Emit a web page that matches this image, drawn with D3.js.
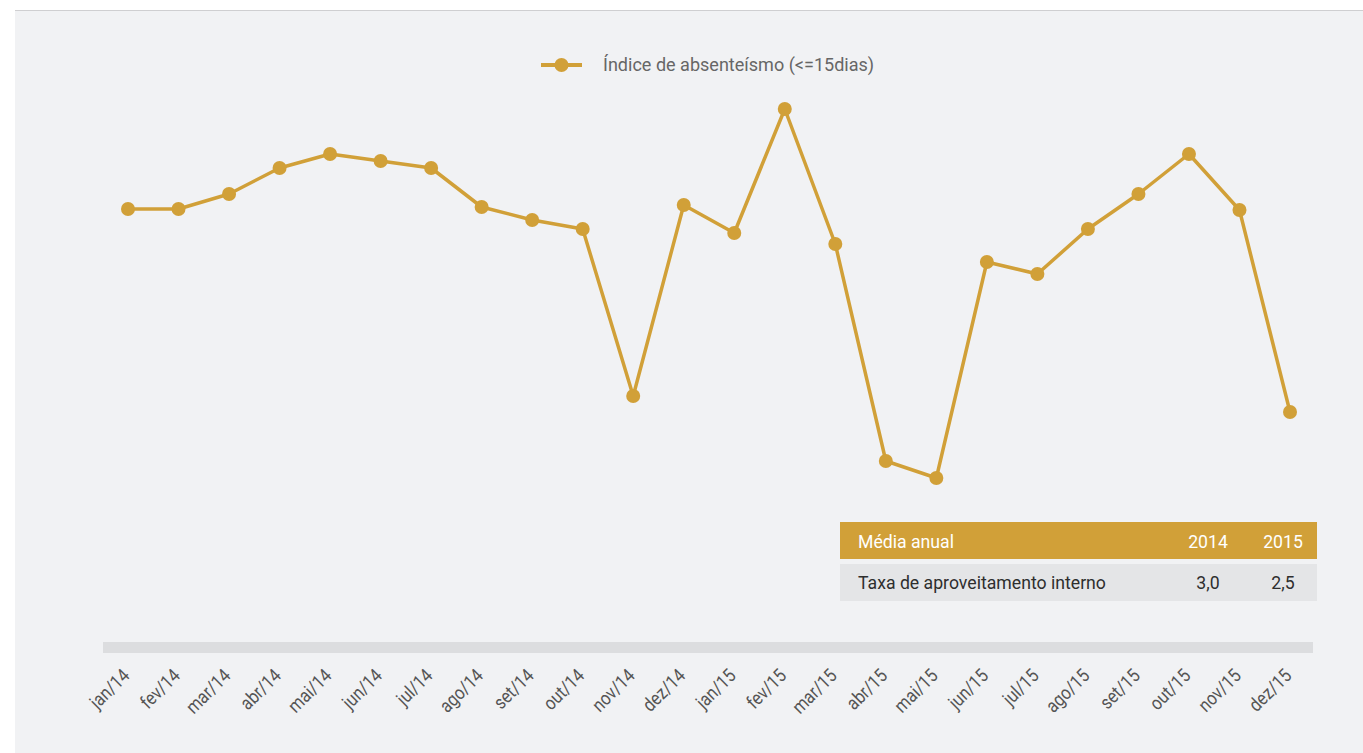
<!DOCTYPE html>
<html><head><meta charset="utf-8">
<script src="https://cdn.jsdelivr.net/npm/d3@7/dist/d3.min.js"></script>
<style>
html,body{margin:0;padding:0;background:#fff;}
svg{display:block;}
</style></head>
<body>
<script>
const categories = ["jan/14","fev/14","mar/14","abr/14","mai/14","jun/14","jul/14","ago/14","set/14","out/14","nov/14","dez/14",
  "jan/15","fev/15","mar/15","abr/15","mai/15","jun/15","jul/15","ago/15","set/15","out/15","nov/15","dez/15"];
const seriesName = "Índice de absenteísmo (<=15dias)";
const values = [3.51,3.51,3.66,3.92,4.06,3.99,3.92,3.53,3.40,3.31,1.64,3.55,
  3.27,4.51,3.16,0.99,0.82,2.98,2.86,3.31,3.66,4.06,3.50,1.48];
const tableHeader = ["Média anual","2014","2015"];
const tableRow = ["Taxa de aproveitamento interno","3,0","2,5"];

const W = 1363, H = 753;
const gold = "#d1a038";
const font = "Roboto,'Liberation Sans',sans-serif";
const sx = 0.93;

const svg = d3.select("body").append("svg").attr("width", W).attr("height", H);
svg.append("rect").attr("x",15).attr("y",10).attr("width",W-15).attr("height",H-10).attr("fill","#f1f2f4");
svg.append("line").attr("x1",15).attr("x2",W).attr("y1",10.5).attr("y2",10.5).attr("stroke","#cfcfd1").attr("stroke-width",1);

const x = d3.scalePoint().domain(categories).range([128,1290]);
const y = d3.scaleLinear().domain([0,5]).range([560,60]);

// axis band
svg.append("rect").attr("x",103).attr("y",642).attr("width",1210).attr("height",11).attr("fill","#dcdddf");

// x axis labels
const xAxis = d3.axisBottom(x).tickSize(0).tickPadding(0);
const gx = svg.append("g").call(xAxis);
gx.select(".domain").remove();
gx.selectAll(".tick").attr("transform", d => `translate(${x(d)-2},672)`);
gx.selectAll("text")
  .attr("font-family",font).attr("font-size",19).attr("fill","#555")
  .attr("text-anchor","end").attr("dy","0.35em").attr("y",0).attr("x",0)
  .attr("transform",`rotate(-45) scale(0.86,1)`);

// line
const line = d3.line().x((d,i)=>x(categories[i])).y(d=>y(d));
svg.append("path").datum(values).attr("d",line).attr("fill","none")
  .attr("stroke",gold).attr("stroke-width",3.5).attr("stroke-linejoin","round");
svg.selectAll("circle.pt").data(values).enter().append("circle").attr("class","pt")
  .attr("cx",(d,i)=>x(categories[i])).attr("cy",d=>y(d)).attr("r",7).attr("fill",gold);

// legend
const lg = svg.append("g").attr("transform","translate(541,65)");
lg.append("line").attr("x1",0).attr("x2",41).attr("y1",0).attr("y2",0).attr("stroke",gold).attr("stroke-width",4);
lg.append("circle").attr("cx",20.5).attr("cy",0).attr("r",7).attr("fill",gold);
lg.append("text").attr("transform",`translate(62,6) scale(0.95,1)`).attr("font-family",font).attr("font-size",19).attr("fill","#666").text(seriesName);

// table
const tg = svg.append("g");
tg.append("rect").attr("x",840).attr("y",522).attr("width",477).attr("height",37).attr("fill",gold);
tg.append("rect").attr("x",840).attr("y",564).attr("width",477).attr("height",37).attr("fill","#e4e5e7");
const colX = [858,1208,1283];
const anchors = ["start","middle","middle"];
tableHeader.forEach((t,i)=>{
  tg.append("text").attr("transform",`translate(${colX[i]},548) scale(${sx},1)`).attr("text-anchor",anchors[i])
    .attr("font-family",font).attr("font-size",19).attr("fill","#fff").text(t);
});
tableRow.forEach((t,i)=>{
  tg.append("text").attr("transform",`translate(${colX[i]},589) scale(${sx},1)`).attr("text-anchor",anchors[i])
    .attr("font-family",font).attr("font-size",19).attr("fill","#2e2e2e").text(t);
});
</script>
</body></html>
